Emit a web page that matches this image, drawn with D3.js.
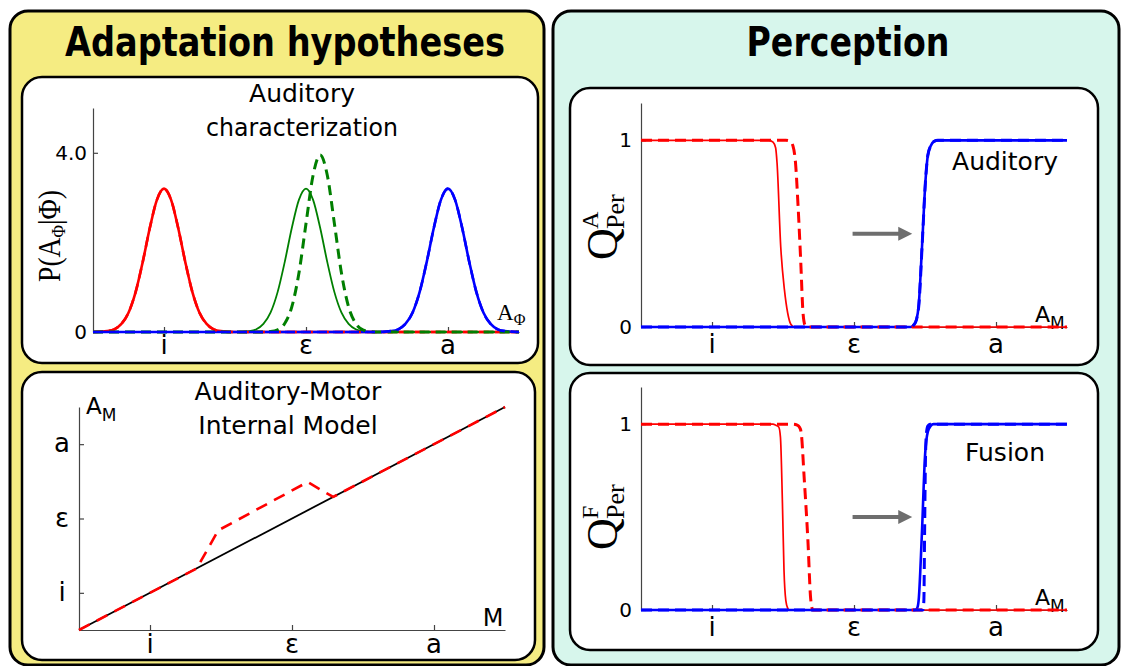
<!DOCTYPE html>
<html><head><meta charset="utf-8">
<script src="https://cdn.jsdelivr.net/npm/d3@7"></script>
<style>body{margin:0;background:#fff}svg{display:block}</style>
</head><body>
<svg id="c" width="1123" height="666"></svg>
<script>
// ---------- DATA ----------
const phonemeLabels = ["i", "ε", "a"];
const phonemePos = [1, 2, 3];
const densityTickVals = [0, 4];
const densityTickLabels = ["0", "4.0"];
const qTickVals = [0, 1];
const qTickLabels = ["0", "1"];

// Auditory characterization P(A|Φ)
const densRed = [[0.5,0],[0.6,0.02],[0.65,0.06],[0.7,0.18],[0.75,0.43],[0.8,0.89],[0.85,1.56],[0.9,2.32],[0.95,2.95],[1.0,3.2],[1.05,2.95],[1.1,2.32],[1.15,1.56],[1.2,0.89],[1.25,0.43],[1.3,0.18],[1.35,0.06],[1.4,0.02],[1.5,0],[3.5,0]];
const densGreen = [[0.5,0],[1.5,0],[1.6,0.02],[1.65,0.06],[1.7,0.18],[1.75,0.43],[1.8,0.89],[1.85,1.56],[1.9,2.32],[1.95,2.95],[2.0,3.2],[2.05,2.95],[2.1,2.32],[2.15,1.56],[2.2,0.89],[2.25,0.43],[2.3,0.18],[2.35,0.06],[2.4,0.02],[2.5,0],[3.5,0]];
const densGreenAdapted = [[0.5,0],[1.7,0],[1.75,0.01],[1.8,0.05],[1.85,0.19],[1.9,0.56],[1.95,1.31],[2.0,2.42],[2.05,3.5],[2.1,3.95],[2.15,3.5],[2.2,2.42],[2.25,1.31],[2.3,0.56],[2.35,0.19],[2.4,0.05],[2.45,0.01],[2.5,0],[3.5,0]];
const densBlue = [[0.5,0],[2.5,0],[2.6,0.02],[2.65,0.06],[2.7,0.18],[2.75,0.43],[2.8,0.89],[2.85,1.56],[2.9,2.32],[2.95,2.95],[3.0,3.2],[3.05,2.95],[3.1,2.32],[3.15,1.56],[3.2,0.89],[3.25,0.43],[3.3,0.18],[3.35,0.06],[3.4,0.02],[3.5,0]];

// Auditory-Motor internal model
const modelIdentity = [[0.5,0.5],[3.5,3.5]];
const modelAdapted = [[0.5,0.5],[1.33,1.33],[1.48,1.84],[2.11,2.49],[2.29,2.29],[3.5,3.5]];

// Perception: Auditory
const audRedBefore = [[0.5,1],[1.40,1],[1.43,0.99],[1.448,0.96],[1.458,0.88],[1.484,0.43],[1.51,0.2],[1.533,0.075],[1.555,0.015],[1.58,0],[3.5,0]];
const audRedAfter = [[0.5,1],[1.52,1],[1.55,0.995],[1.57,0.97],[1.588,0.88],[1.606,0.65],[1.625,0.35],[1.641,0.075],[1.655,0.01],[1.67,0],[3.5,0]];
const audBlueBefore = [[0.5,0],[2.40,0],[2.42,0.01],[2.44,0.04],[2.455,0.11],[2.479,0.43],[2.504,0.79],[2.52,0.92],[2.54,0.97],[2.565,0.995],[2.59,1],[3.5,1]];
const audBlueAfter = [[0.5,0],[2.40,0],[2.42,0.01],[2.44,0.04],[2.457,0.12],[2.48,0.44],[2.505,0.8],[2.52,0.92],[2.54,0.97],[2.565,0.995],[2.59,1],[3.5,1]];

// Perception: Fusion
const fusRedBefore = [[0.5,1],[1.43,1],[1.447,0.995],[1.47,0.985],[1.482,0.93],[1.496,0.575],[1.507,0.215],[1.52,0.05],[1.533,0.01],[1.545,0],[3.5,0]];
const fusRedAfter = [[0.5,1],[1.57,1],[1.60,0.995],[1.615,0.985],[1.627,0.96],[1.65,0.7],[1.675,0.38],[1.695,0.06],[1.71,0],[3.5,0]];
const fusBlueBefore = [[0.5,0],[2.43,0],[2.445,0.01],[2.455,0.05],[2.477,0.39],[2.501,0.84],[2.52,0.96],[2.54,0.99],[2.56,1],[3.5,1]];
const fusBlueAfter = [[0.5,0],[2.485,0],[2.492,0.05],[2.497,0.4],[2.503,0.8],[2.51,0.95],[2.52,0.99],[2.535,1],[3.5,1]];

const shiftArrow = [[1.99,0.5],[2.41,0.5]];

// ---------- STYLE ----------
const SANS = "DejaVu Sans, Verdana, sans-serif";
const SERIF = "Liberation Serif, Times New Roman, serif";
const RED = "#ff0000", BLUE = "#0000ff", GREEN = "#007f00";

const svg = d3.select("#c");

function box(x, y, w, h, r, fill, sw) {
  svg.append("rect").attr("x", x).attr("y", y).attr("width", w).attr("height", h)
    .attr("rx", r).attr("ry", r).attr("fill", fill).attr("stroke", "#000").attr("stroke-width", sw);
}
function txt(g, x, y, s, size, opts = {}) {
  return g.append("text").attr("x", x).attr("y", y).text(s)
    .attr("font-family", opts.family || SANS).attr("font-size", size)
    .attr("font-weight", opts.weight || "normal")
    .attr("text-anchor", opts.anchor || "middle").attr("fill", "#000");
}
function curvePath(g, data, xs, ys, color, w, dash, curve) {
  const ln = d3.line().x(d => xs(d[0])).y(d => ys(d[1])).curve(curve || d3.curveMonotoneX);
  g.append("path").datum(data).attr("d", ln).attr("fill", "none")
    .attr("stroke", color).attr("stroke-width", w)
    .attr("stroke-dasharray", dash || null).attr("stroke-linejoin", "round");
}
function axes(g, xs, ys, yTicks) {
  const ax = g.append("g").attr("transform", `translate(0,${ys.range()[0]})`)
    .call(d3.axisBottom(xs).tickValues(phonemePos).tickSize(-5).tickSizeOuter(0).tickFormat(""));
  const ay = g.append("g").attr("transform", `translate(${xs.range()[0]},0)`)
    .call(d3.axisLeft(ys).tickValues(yTicks).tickSize(-5).tickSizeOuter(0).tickFormat(""));
  [ax, ay].forEach(a => { a.selectAll("path,line").attr("stroke", "#444").attr("stroke-width", 1.2); });
}
function subLabel(g, x, y, main, sub, size, subSize, family, dy) {
  const t = g.append("text").attr("x", x).attr("y", y).attr("font-family", family)
    .attr("font-size", size).attr("fill", "#000");
  t.append("tspan").text(main);
  t.append("tspan").attr("dy", dy).attr("font-size", subSize).text(sub);
  return t;
}

// ---------- FRAMES ----------
box(10, 11, 534, 654, 18, "#f5ec82", 3);
box(553, 11, 566, 654, 18, "#d7f6ec", 3);
txt(svg, 285, 56, "Adaptation hypotheses", 40, {weight: "bold"}).attr("textLength", 440).attr("lengthAdjust", "spacingAndGlyphs");
txt(svg, 848, 56, "Perception", 40, {weight: "bold"}).attr("textLength", 203).attr("lengthAdjust", "spacingAndGlyphs");

box(22, 77, 516, 286, 20, "#fff", 2.5);
box(22, 372, 513, 288, 20, "#fff", 2.5);
box(570, 88, 528, 277, 20, "#fff", 2.5);
box(570, 373, 528, 277, 20, "#fff", 2.5);

// ---------- PANEL A: Auditory characterization ----------
{
  const g = svg.append("g");
  const x = d3.scaleLinear().domain([0.5, 3.5]).range([93, 519]);
  const y = d3.scaleLinear().domain([0, 5]).range([332, 108]);
  axes(g, x, y, [4]);
  txt(g, 302, 102, "Auditory", 25);
  txt(g, 302, 136, "characterization", 25).attr("textLength", 192).attr("lengthAdjust", "spacingAndGlyphs");
  densityTickVals.forEach((v, i) => txt(g, 87, y(v) + 7, densityTickLabels[i], 20, {anchor: "end"}));
  phonemePos.forEach((v, i) => txt(g, x(v), 354, phonemeLabels[i], 26));
  subLabel(g, 497, 320, "A", "Φ", 23, 16, SERIF, 5);
  const yl = g.append("g").attr("transform", "translate(60,282) rotate(-90)");
  const t = yl.append("text").attr("x", 0).attr("y", 0).attr("font-family", SERIF).attr("font-size", 31)
    .attr("textLength", 92).attr("lengthAdjust", "spacingAndGlyphs");
  t.append("tspan").text("P(A");
  t.append("tspan").attr("font-size", 19).attr("dy", 5).text("Φ");
  t.append("tspan").attr("dy", -5).text("|Φ)");

  curvePath(g, densRed, x, y, RED, 2.6);
  curvePath(g, densGreen, x, y, GREEN, 1.8);
  curvePath(g, densBlue, x, y, BLUE, 2.6);
  curvePath(g, densRed, x, y, RED, 2.6, "10,6");
  curvePath(g, densGreenAdapted, x, y, GREEN, 3, "10,6");
  curvePath(g, densBlue, x, y, BLUE, 2.6, "10,6");
}

// ---------- PANEL B: Auditory-Motor Internal Model ----------
{
  const g = svg.append("g");
  const x = d3.scaleLinear().domain([0.5, 3.5]).range([79, 505]);
  const y = d3.scaleLinear().domain([0.5, 3.5]).range([630, 407]);
  axes(g, x, y, phonemePos);
  txt(g, 288, 400, "Auditory-Motor", 25);
  txt(g, 288, 434, "Internal Model", 25);
  phonemePos.forEach((v, i) => txt(g, x(v), 653, phonemeLabels[i], 26));
  phonemePos.forEach((v, i) => txt(g, 62, y(v) + 8, phonemeLabels[i], 26));
  subLabel(g, 86, 414, "A", "M", 23, 17, SANS, 7);
  txt(g, 493, 626, "M", 24);
  curvePath(g, modelIdentity, x, y, "#000", 1.8, null, d3.curveLinear);
  curvePath(g, modelAdapted, x, y, RED, 2.6, "12,8", d3.curveLinear);
}

// ---------- PANELS C/D: Perception ----------
function perception(top, y0, y1, label, labelY, sup, curves) {
  const g = svg.append("g");
  const x = d3.scaleLinear().domain([0.5, 3.5]).range([641, 1067]);
  const y = d3.scaleLinear().domain([0, 1.2]).range([y0, top]);
  axes(g, x, y, qTickVals);
  qTickVals.forEach((v, i) => txt(g, 632, y(v) + 7, qTickLabels[i], 20, {anchor: "end"}));
  phonemePos.forEach((v, i) => txt(g, x(v), y0 + 26, phonemeLabels[i], 26));
  subLabel(g, 1035, y0 - 5, "A", "M", 22, 17, SANS, 7);
  txt(g, 1005, labelY, label, 25);
  const ql = g.append("g").attr("transform", `translate(617,${y1}) rotate(-90)`);
  ql.append("text").attr("x", 0).attr("y", 0).attr("font-family", SERIF).attr("font-size", 44).text("Q");
  ql.append("text").attr("x", 31).attr("y", -19).attr("font-family", SERIF).attr("font-size", 24).text(sup);
  ql.append("text").attr("x", 31).attr("y", 7).attr("font-family", SERIF).attr("font-size", 26).text("Per");

  curvePath(g, curves[0], x, y, RED, 1.7);
  curvePath(g, curves[2], x, y, BLUE, 2.6);
  curvePath(g, curves[1], x, y, RED, 3, "11,6");
  curvePath(g, curves[3], x, y, BLUE, 3, "11,6");

  // arrow
  const ax0 = x(shiftArrow[0][0]), ax1 = x(shiftArrow[1][0]), ay = y(shiftArrow[0][1]);
  g.append("line").attr("x1", ax0).attr("x2", ax1 - 10).attr("y1", ay).attr("y2", ay)
    .attr("stroke", "#6e6e6e").attr("stroke-width", 4);
  g.append("path").attr("d", `M${ax1},${ay} L${ax1 - 14},${ay - 7} L${ax1 - 14},${ay + 7} Z`).attr("fill", "#6e6e6e");
}
perception(103, 327, 260, "Auditory", 170, "A", [audRedBefore, audRedAfter, audBlueBefore, audBlueAfter]);
perception(387, 610, 550, "Fusion", 461, "F", [fusRedBefore, fusRedAfter, fusBlueBefore, fusBlueAfter]);
</script>
</body></html>
